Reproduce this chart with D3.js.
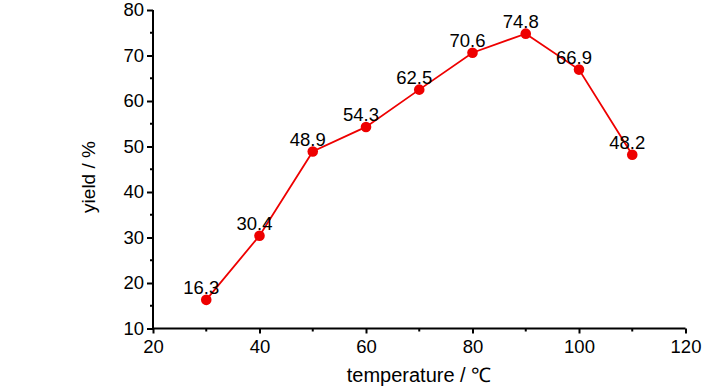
<!DOCTYPE html>
<html>
<head>
<meta charset="utf-8">
<script src="https://cdn.jsdelivr.net/npm/d3@7"></script>
<style>
  html, body { margin: 0; padding: 0; background: #fff; }
  svg { display: block; }
  text { font-family: "Liberation Sans", Arial, sans-serif; fill: #000; }
</style>
</head>
<body>
<svg id="chart" width="728" height="390"></svg>
<script>
const temperatures = [30, 40, 50, 60, 70, 80, 90, 100, 110];
const yields = [16.3, 30.4, 48.9, 54.3, 62.5, 70.6, 74.8, 66.9, 48.2];
const xMajorTicks = [20, 40, 60, 80, 100, 120];
const xMinorTicks = [30, 50, 70, 90, 110];
const yMajorTicks = [10, 20, 30, 40, 50, 60, 70, 80];
const yMinorTicks = [15, 25, 35, 45, 55, 65, 75];
const xTitle = "temperature / ℃";
const yTitle = "yield / %";

const svg = d3.select("#chart");
const x = d3.scaleLinear().domain([20, 120]).range([153, 685.5]);
const y = d3.scaleLinear().domain([10, 80]).range([328.5, 10]);

const red = "#ee0000";

// X axis
const xAxis = svg.append("g").attr("transform", `translate(0,${y(10)})`);
xAxis.call(d3.axisBottom(x).tickValues(xMajorTicks).tickSize(5).tickPadding(6).tickFormat(d3.format("d")));
xAxis.append("g").selectAll("line").data(xMinorTicks).join("line")
  .attr("x1", d => x(d)).attr("x2", d => x(d)).attr("y1", 0).attr("y2", 3)
  .attr("stroke", "#000").attr("stroke-width", 2);

// Y axis
const yAxis = svg.append("g").attr("transform", `translate(${x(20)},0)`);
yAxis.call(d3.axisLeft(y).tickValues(yMajorTicks).tickSize(6).tickPadding(3).tickFormat(d3.format("d")));
yAxis.append("g").selectAll("line").data(yMinorTicks).join("line")
  .attr("y1", d => y(d)).attr("y2", d => y(d)).attr("x1", 0).attr("x2", -3)
  .attr("stroke", "#000").attr("stroke-width", 2);

[xAxis, yAxis].forEach(g => {
  g.select(".domain").attr("stroke", "#000").attr("stroke-width", 2);
  g.selectAll(".tick line").attr("stroke", "#000").attr("stroke-width", 2);
  g.selectAll(".tick text").attr("font-size", 18.5).attr("font-family", "Liberation Sans, Arial, sans-serif").attr("fill", "#000");
});
xAxis.select(".domain").attr("d", `M${x(20)},0H${x(120)}`);
yAxis.select(".domain").attr("d", `M0,${y(10)}V${y(80)}`);

// Axis titles
svg.append("text").attr("x", 419).attr("y", 382).attr("text-anchor", "middle")
  .attr("font-size", 20).text(xTitle);
svg.append("text").attr("transform", `translate(95,177) rotate(-90)`).attr("text-anchor", "middle")
  .attr("font-size", 19).text(yTitle);

// Line
const data = temperatures.map((t, i) => ({ t, v: yields[i] }));
svg.append("path").datum(data)
  .attr("fill", "none").attr("stroke", red).attr("stroke-width", 1.8)
  .attr("d", d3.line().x(d => x(d.t)).y(d => y(d.v)));

// Points
svg.append("g").selectAll("circle").data(data).join("circle")
  .attr("cx", d => x(d.t)).attr("cy", d => y(d.v)).attr("r", 5.3)
  .attr("fill", red);

// Labels
svg.append("g").selectAll("text").data(data).join("text")
  .attr("x", d => x(d.t) - 5).attr("y", d => y(d.v) - 6)
  .attr("text-anchor", "middle").attr("font-size", 18.5)
  .text(d => d.v.toFixed(1));
</script>
</body>
</html>
